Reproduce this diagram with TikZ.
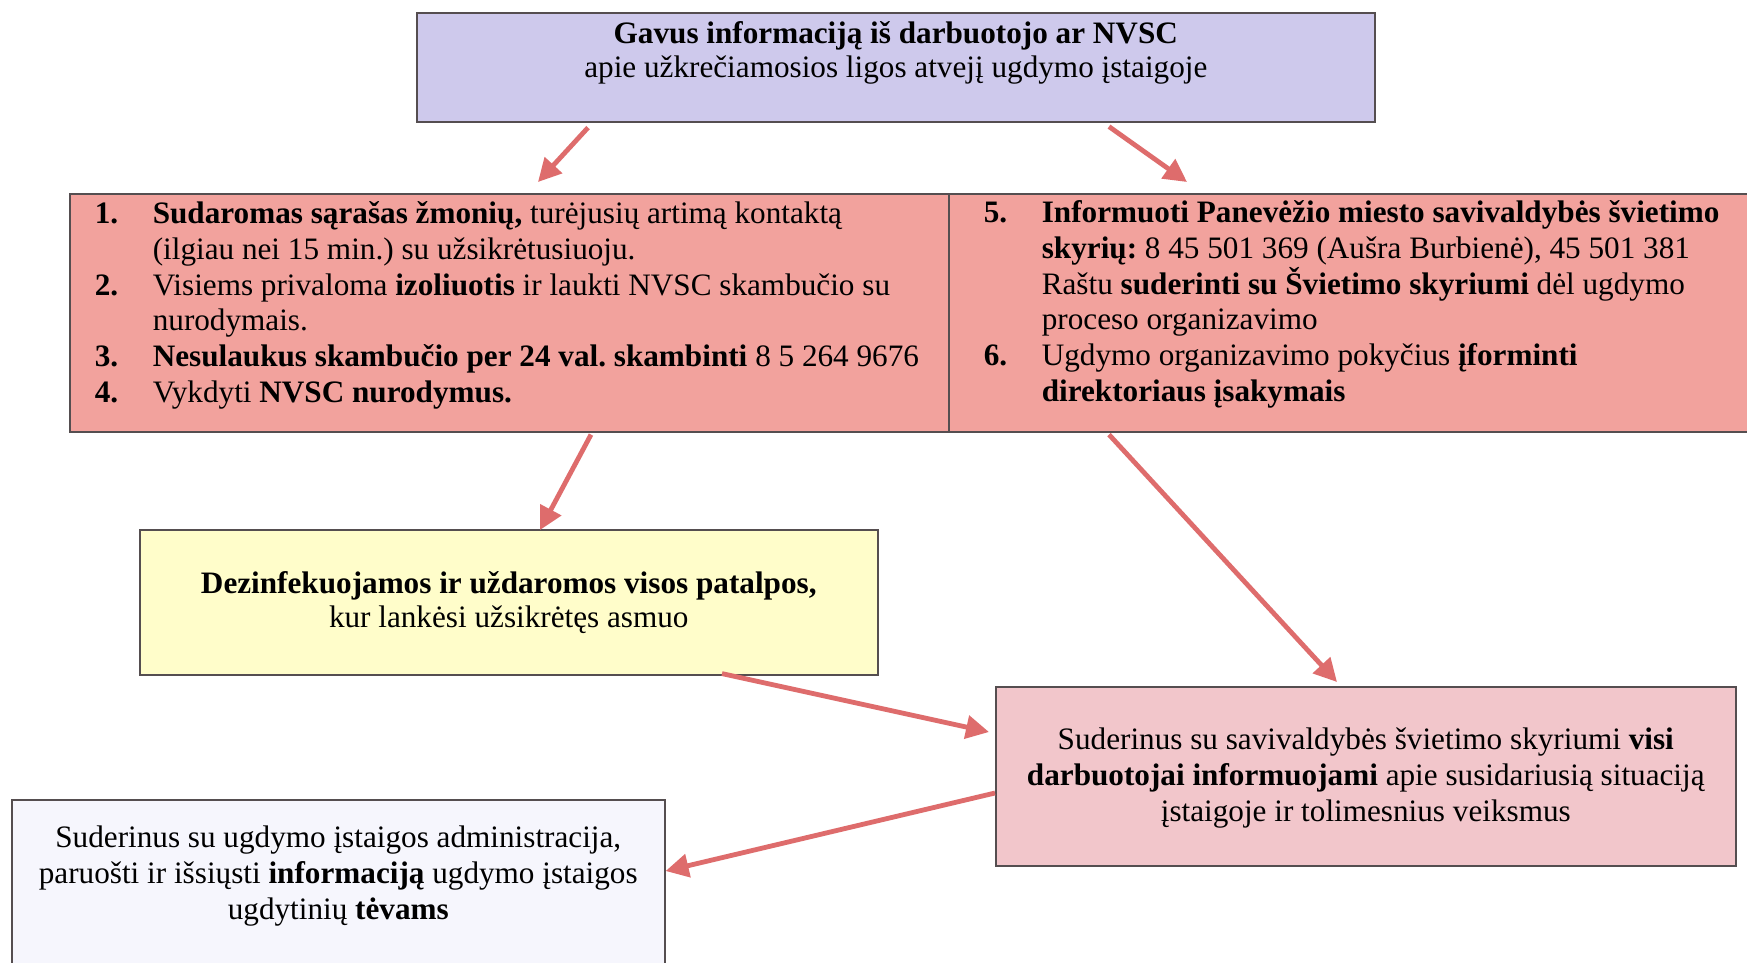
\documentclass[tikz,border=0pt]{standalone}
\usepackage{fontspec}
\setmainfont{Liberation Serif}
\usetikzlibrary{arrows.meta}
\frenchspacing
\definecolor{lav}{RGB}{206,201,236}
\definecolor{salmon}{RGB}{242,162,157}
\definecolor{lyellow}{RGB}{255,253,202}
\definecolor{lpink}{RGB}{242,198,203}
\definecolor{plav}{RGB}{246,246,253}
\definecolor{boxline}{RGB}{85,78,80}
\definecolor{arrowred}{RGB}{222,108,108}
\newcommand{\nm}[2]{\hspace*{#1}\makebox[58pt][l]{\textbf{#2}}}
\newcommand{\ind}[1]{\hspace*{#1}\hspace*{58pt}}
\begin{document}
\begin{tikzpicture}[x=1pt,y=-1pt,
  box/.style={draw=boxline,line width=1.6pt,inner sep=0pt,anchor=north west},
  arr/.style={draw=arrowred,line width=4.8pt,-{Triangle[length=23pt,width=23pt]}},
  font=\fontsize{31.2}{35.7}\selectfont]
\useasboundingbox (0,0) rectangle (1747,962);
\clip (0,0) rectangle (1747,962);
\fill[white] (0,0) rectangle (1747,962);

\node[box,fill=lav] (top) at (416,12) {\parbox[c][109pt][t]{958pt}{\centering\fontsize{31.2}{34}\selectfont
\rule{0pt}{31pt}\textbf{Gavus informaciją iš darbuotojo ar NVSC}\\
apie užkrečiamosios ligos atvejį ugdymo įstaigoje}};

\node[box,fill=salmon] (redL) at (69,193) {\parbox[c][238pt][t]{879pt}{\raggedright
\rule{0pt}{30pt}\nm{25pt}{1.}\textbf{Sudaromas sąrašas žmonių,} turėjusių artimą kontaktą\\
\ind{25pt}(ilgiau nei 15 min.) su užsikrėtusiuoju.\\
\nm{25pt}{2.}Visiems privaloma \textbf{izoliuotis} ir laukti NVSC skambučio su\\
\ind{25pt}nurodymais.\\
\nm{25pt}{3.}\textbf{Nesulaukus skambučio per 24 val. skambinti} 8 5 264 9676\\
\nm{25pt}{4.}Vykdyti \textbf{NVSC nurodymus.}}};

\node[box,fill=salmon] (redR) at (948,193) {\parbox[c][238pt][t]{820pt}{\raggedright
\rule{0pt}{29pt}\nm{35pt}{5.}\textbf{Informuoti Panevėžio miesto savivaldybės švietimo}\\
\ind{35pt}\textbf{skyrių:} 8 45 501 369 (Aušra Burbienė), 45 501 381\\
\ind{35pt}Raštu \textbf{suderinti su Švietimo skyriumi} dėl ugdymo\\
\ind{35pt}proceso organizavimo\\
\nm{35pt}{6.}Ugdymo organizavimo pokyčius \textbf{įforminti}\\
\ind{35pt}\textbf{direktoriaus įsakymais}}};

\node[box,fill=lyellow] (yel) at (139,529) {\parbox[c][145pt][t]{738pt}{\centering\fontsize{31.2}{34}\selectfont
\rule{0pt}{64pt}\textbf{Dezinfekuojamos ir uždaromos visos patalpos,}\\
kur lankėsi užsikrėtęs asmuo}};

\node[box,fill=lpink] (pink) at (995,686) {\parbox[c][179pt][t]{740pt}{\centering
\rule{0pt}{63pt}Suderinus su savivaldybės švietimo skyriumi \textbf{visi}\\
\textbf{darbuotojai informuojami} apie susidariusią situaciją\\
įstaigoje ir tolimesnius veiksmus}};

\node[box,fill=plav] (par) at (11,799) {\parbox[c][180pt][t]{653pt}{\centering
\rule{0pt}{48pt}Suderinus su ugdymo įstaigos administracija,\\
paruošti ir išsiųsti \textbf{informaciją} ugdymo įstaigos\\
ugdytinių \textbf{tėvams}}};

\draw[arr] ([xshift=172pt,yshift=-5pt]top.south west) -- ([xshift=469pt,yshift=11pt]redL.north west);
\draw[arr] ([xshift=693pt,yshift=-4pt]top.south west) -- ([xshift=239pt,yshift=11pt]redR.north west);
\draw[arr] ([xshift=522pt,yshift=-2pt]redL.south west) -- ([xshift=401pt,yshift=-1pt]yel.north west);
\draw[arr] ([xshift=161pt,yshift=-2pt]redR.south west) -- ([xshift=342pt,yshift=4pt]pink.north west);
\draw[arr] ([xshift=583pt,yshift=2pt]yel.south west) -- ([xshift=-6pt,yshift=-46pt]pink.north west);
\draw[arr] ([yshift=-107pt]pink.north west) -- ([yshift=-72pt]par.north east);
\end{tikzpicture}
\end{document}
